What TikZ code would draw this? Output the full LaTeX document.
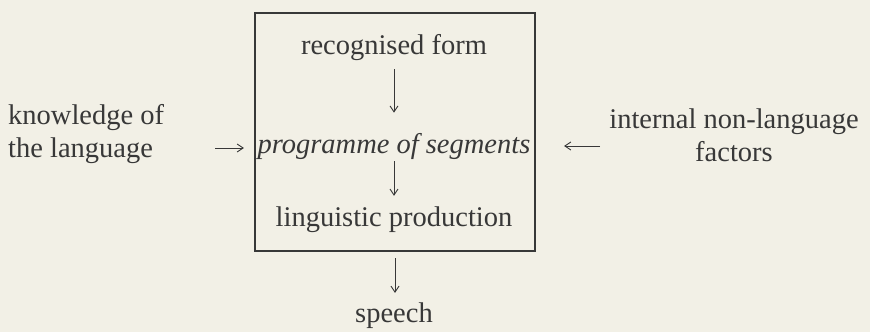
\documentclass[tikz,border=0pt]{standalone}
\usepackage{fontspec}
\setmainfont{Liberation Serif}
\usetikzlibrary{arrows.meta}
\definecolor{bg}{HTML}{F2F0E6}
\definecolor{ink}{HTML}{383838}
\begin{document}
\begin{tikzpicture}[x=1pt,y=-1pt,
  lbl/.style={font=\fontsize{28.5}{33}\selectfont, text=ink, inner sep=0pt},
  arr/.style={draw=ink, line width=0.9pt, -{Straight Barb[length=6pt,width=8pt]}}]
\fill[bg] (0,0) rectangle (870,332);
\useasboundingbox (0,0) rectangle (870,332);
\node[draw=ink, line width=2.2pt, minimum width=280pt, minimum height=238pt, inner sep=0pt] (box) at (395,132) {};
\node[lbl] (rf) at (394,48) {recognised form};
\node[lbl] (ps) at (394,146) {\textit{programme of segments}};
\node[lbl] (lp) at (394,220) {linguistic production};
\node[lbl] (sp) at (394,316) {speech};
\node[lbl, align=left, anchor=west] (kl) at (8,134) {knowledge of\\the language};
\node[lbl, align=center] (inf) at (734,135) {internal non-language\\factors};
\coordinate (kla) at (215,148);
\coordinate (ina) at (600,146);
\draw[arr, shorten <=8pt, shorten >=20pt] (rf.south) -- (rf.south |- ps.north);
\draw[arr, shorten <=2pt, shorten >=11pt] (ps.south) -- (ps.south |- lp.north);
\draw[arr, shorten <=6pt, shorten >=10pt] (box.south) -- (box.south |- sp.north);
\draw[arr, shorten >=10pt] (kla) -- (kla -| box.west);
\draw[arr, shorten >=28pt] (ina) -- (ina -| box.east);
\end{tikzpicture}
\end{document}
